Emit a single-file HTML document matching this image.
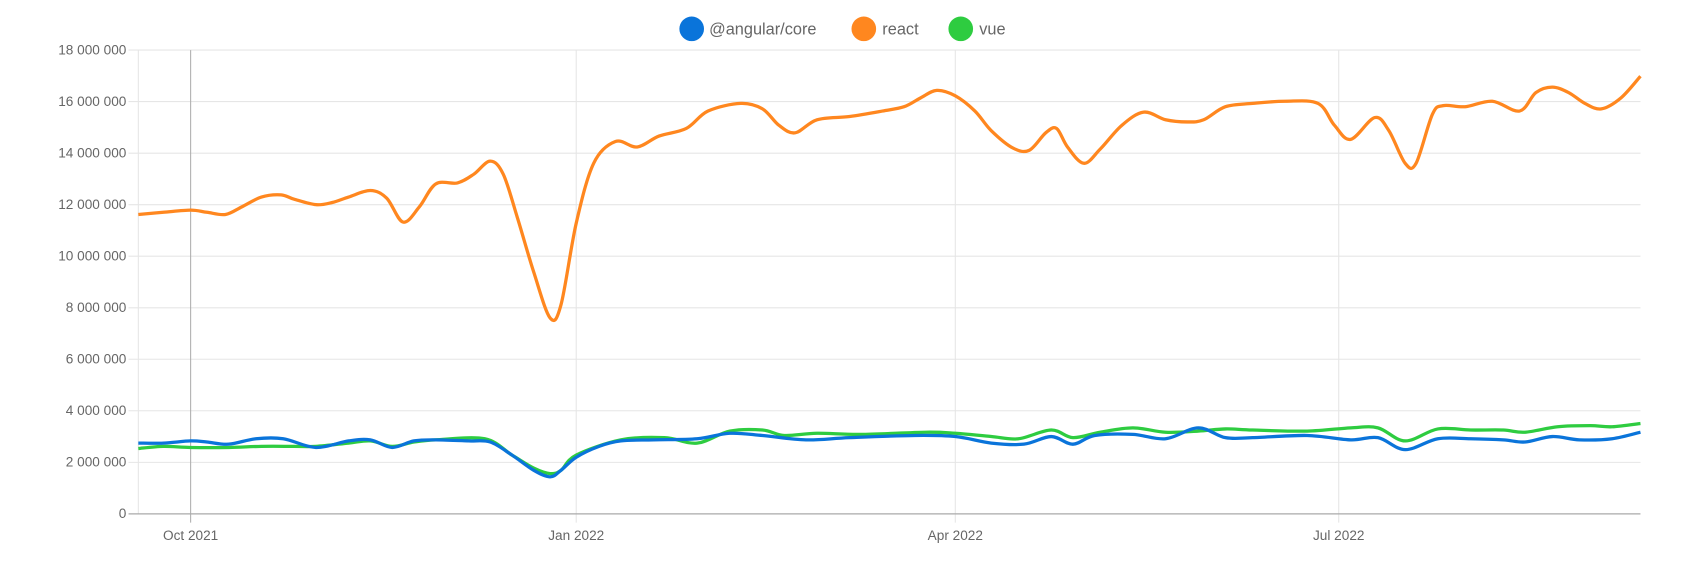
<!DOCTYPE html>
<html><head><meta charset="utf-8"><style>
html,body{margin:0;padding:0;background:#fff;width:1708px;height:577px;overflow:hidden}
svg{display:block}
text{font-family:"Liberation Sans",sans-serif;fill:#666}
</style></head><body>
<svg id="c" width="1708" height="577" viewBox="0 0 1568 530" preserveAspectRatio="none">
<g stroke="#e6e6e6" stroke-width="1">
<line x1="118" x2="1506" y1="46" y2="46"/><line x1="118" x2="1506" y1="93.3" y2="93.3"/>
<line x1="118" x2="1506" y1="140.7" y2="140.7"/><line x1="118" x2="1506" y1="188" y2="188"/>
<line x1="118" x2="1506" y1="235.3" y2="235.3"/><line x1="118" x2="1506" y1="282.7" y2="282.7"/>
<line x1="118" x2="1506" y1="330" y2="330"/><line x1="118" x2="1506" y1="377.3" y2="377.3"/>
<line x1="118" x2="1506" y1="424.7" y2="424.7"/>
<line x1="127" x2="127" y1="46" y2="472"/>
<line x1="529" x2="529" y1="46" y2="480"/><line x1="877" x2="877" y1="46" y2="480"/><line x1="1229" x2="1229" y1="46" y2="480"/>
</g>
<line x1="175" x2="175" y1="46" y2="480" stroke="#b0b0b0"/>
<line x1="118" x2="1506" y1="472" y2="472" stroke="#aaa" stroke-width="1.2"/>
<g font-size="12.5" text-anchor="end">
<text x="116" y="50">18 000 000</text><text x="116" y="97.3">16 000 000</text>
<text x="116" y="144.7">14 000 000</text><text x="116" y="192">12 000 000</text>
<text x="116" y="239.3">10 000 000</text><text x="116" y="286.7">8 000 000</text>
<text x="116" y="334">6 000 000</text><text x="116" y="381.3">4 000 000</text>
<text x="116" y="428.7">2 000 000</text><text x="116" y="476">0</text>
</g>
<g font-size="12.5" text-anchor="middle">
<text x="175" y="496">Oct 2021</text><text x="529" y="496">Jan 2022</text>
<text x="877" y="496">Apr 2022</text><text x="1229" y="496">Jul 2022</text>
</g>
<circle cx="635" cy="26.5" r="11.3" fill="#0a74da"/>
<text x="651" y="31.5" font-size="15">@angular/core</text>
<circle cx="793" cy="26.5" r="11.3" fill="#ff871f"/>
<text x="810" y="31.5" font-size="15">react</text>
<circle cx="882" cy="26.5" r="11.3" fill="#2ecc40"/>
<text x="899" y="31.5" font-size="15">vue</text>
<path id="g" fill="none" stroke="#2ecc40" stroke-width="3"/>
<path id="b" fill="none" stroke="#0a74da" stroke-width="3"/>
<path id="r" fill="none" stroke="#ff871f" stroke-width="3"/>
</svg>
<script>
function sm(p){var d="M"+p[0][0]+","+p[0][1];for(var i=0;i<p.length-1;i++){var a=p[i-1]||p[i],b=p[i],c=p[i+1],e=p[i+2]||c;
d+=" C"+(b[0]+(c[0]-a[0])/6)+","+(b[1]+(c[1]-a[1])/6)+" "+(c[0]-(e[0]-b[0])/6)+","+(c[1]-(e[1]-b[1])/6)+" "+c[0]+","+c[1];}return d;}
var R=[[127,197],[150,195],[175,193],[190,195],[207,197],[222,190],[240,181],[258,179],[270,183],[290,188],[305,186],[320,181],[340,175],[355,182],[370,204],[385,190],[400,169],[420,168],[435,160],[450,148],[462,160],[475,200],[490,250],[505,292],[515,280],[529,205],[545,150],[565,130],[585,135],[605,125],[630,118],[650,102],[680,95],[700,100],[715,115],[730,122],[750,110],[780,107],[810,102],[830,98],[845,90],[860,83],[877,88],[895,102],[910,120],[930,136],[945,138],[960,122],[970,118],[980,135],[995,150],[1010,137],[1030,115],[1050,103],[1070,110],[1090,112],[1105,110],[1125,98],[1150,95],[1180,93],[1210,95],[1225,115],[1240,128],[1262,108],[1275,120],[1290,150],[1300,150],[1315,105],[1325,97],[1345,98],[1370,93],[1395,102],[1410,85],[1425,80],[1440,85],[1455,95],[1470,100],[1488,90],[1506,70]];
var B=[[127,407],[150,407],[175,405],[190,406],[210,408],[235,403],[260,403],[290,411],[320,405],[340,404],[360,411],[380,405],[400,404],[430,405],[450,406],[470,418],[490,432],[505,438],[515,432],[529,420],[550,410],[570,405],[600,404],[640,403],[670,398],[700,400],[740,404],[780,402],[840,400],[877,401],[910,407],[940,408],[965,401],[985,408],[1005,400],[1040,399],[1070,403],[1100,393],[1125,402],[1150,402],[1200,400],[1240,404],[1265,402],[1290,413],[1320,403],[1350,403],[1380,404],[1400,406],[1425,401],[1450,404],[1480,403],[1506,397]];
var G=[[127,412],[150,410],[175,411],[210,411],[240,410],[270,410],[290,410],[320,407],[340,405],[360,410],[380,406],[400,404],[445,403],[470,418],[490,430],[505,435],[515,432],[529,418],[570,404],[610,402],[640,407],[670,396],[700,395],[720,400],[750,398],[790,399],[850,397],[877,398],[910,401],[935,403],[965,395],[985,402],[1010,397],[1040,393],[1070,397],[1100,396],[1125,394],[1150,395],[1200,396],[1240,393],[1265,393],[1290,405],[1320,394],[1350,395],[1380,395],[1400,397],[1430,392],[1460,391],[1480,392],[1506,389]];
document.getElementById("r").setAttribute("d",sm(R));
document.getElementById("b").setAttribute("d",sm(B));
document.getElementById("g").setAttribute("d",sm(G));
</script>
</body></html>
